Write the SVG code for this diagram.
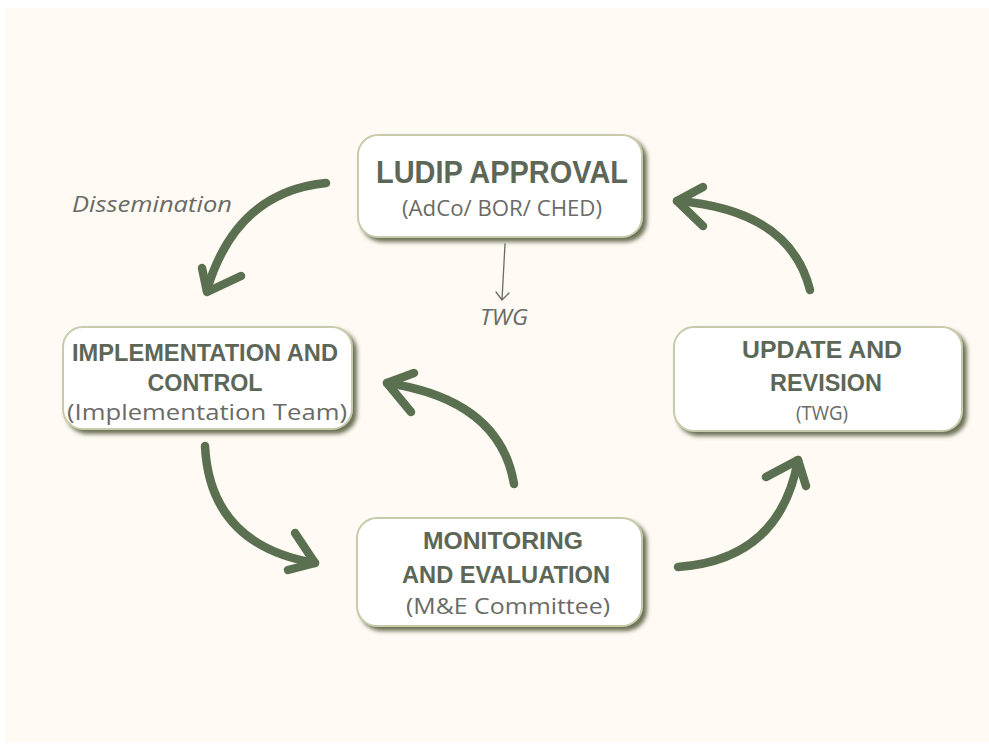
<svg xmlns="http://www.w3.org/2000/svg" width="989" height="744" viewBox="0 0 989 744">
<defs>
<filter id="sh" x="-10%" y="-10%" width="125%" height="135%">
<feDropShadow dx="4" dy="4" stdDeviation="2" flood-color="#666b50" flood-opacity="0.95"/>
</filter>
<style>
.box{fill:#ffffff;stroke:#c6cbab;stroke-width:2;filter:url(#sh)}
.t{font-family:"Liberation Sans",Arial,sans-serif;font-weight:bold;fill:#5d6758;text-anchor:middle}
.s{font-family:"Open Sans","Liberation Sans",sans-serif;fill:#6a6a66;text-anchor:middle}
.arr{fill:none;stroke:#5a7050;stroke-width:8.5;stroke-linecap:round;stroke-linejoin:round}
.thin{fill:none;stroke:#6a6a66;stroke-width:1.3;stroke-linecap:round}
.lbl{font-family:"Open Sans","Liberation Sans",sans-serif;font-style:italic;fill:#6a6a66}
</style>
</defs>
<rect x="0" y="0" width="989" height="744" fill="#ffffff"/>
<rect x="5" y="8" width="984" height="734" fill="#fffaf3"/>

<g id="connectors">
<path class="arr" d="M326,183 Q236,192 207,290"/>
<path class="arr" d="M202,268 L207,292 L241,276"/>
<path class="arr" d="M810,290 Q790,210 677,201"/>
<path class="arr" d="M703,187 L677,201 L703,226"/>
<path class="arr" d="M205,446 Q210,545 315,563"/>
<path class="arr" d="M295,533 L315,563 L288,570"/>
<path class="arr" d="M514,484 Q500,400 387,383"/>
<path class="arr" d="M414,373 L387,383 L411,412"/>
<path class="arr" d="M678,567 Q780,560 798,460"/>
<path class="arr" d="M766,477 L798,460 L806,486"/>
<path class="thin" d="M505,244 L502,300 M496,292 L502,300 L509,293"/>
<text class="lbl" x="72" y="212" font-size="22" textLength="160" lengthAdjust="spacingAndGlyphs">Dissemination</text>
<text class="lbl" x="504" y="325" font-size="22" text-anchor="middle" textLength="48" lengthAdjust="spacingAndGlyphs">TWG</text>
</g>

<g id="ludip">
<rect class="box" x="358" y="135" width="284" height="102" rx="20"/>
<text class="t" x="502" y="183" font-size="31" textLength="252" lengthAdjust="spacingAndGlyphs">LUDIP APPROVAL</text>
<text class="s" x="502" y="216" font-size="22" textLength="200" lengthAdjust="spacingAndGlyphs">(AdCo/ BOR/ CHED)</text>
</g>

<g id="impl">
<rect class="box" x="63" y="327" width="289" height="102" rx="20"/>
<text class="t" x="205" y="361" font-size="23" textLength="266" lengthAdjust="spacingAndGlyphs">IMPLEMENTATION AND</text>
<text class="t" x="205" y="391" font-size="23" textLength="115" lengthAdjust="spacingAndGlyphs">CONTROL</text>
<text class="s" x="207" y="420" font-size="22" textLength="280" lengthAdjust="spacingAndGlyphs">(Implementation Team)</text>
</g>

<g id="update">
<rect class="box" x="674" y="327" width="288" height="104" rx="20"/>
<text class="t" x="822" y="358" font-size="23" textLength="160" lengthAdjust="spacingAndGlyphs">UPDATE AND</text>
<text class="t" x="826" y="391" font-size="23" textLength="112" lengthAdjust="spacingAndGlyphs">REVISION</text>
<text class="s" x="822" y="420" font-size="20" textLength="52" lengthAdjust="spacingAndGlyphs">(TWG)</text>
</g>

<g id="monitor">
<rect class="box" x="357" y="518" width="285" height="108" rx="20"/>
<text class="t" x="503" y="549" font-size="23" textLength="160" lengthAdjust="spacingAndGlyphs">MONITORING</text>
<text class="t" x="506" y="583" font-size="23" textLength="208" lengthAdjust="spacingAndGlyphs">AND EVALUATION</text>
<text class="s" x="508" y="614" font-size="22" textLength="204" lengthAdjust="spacingAndGlyphs">(M&amp;E Committee)</text>
</g>
</svg>
